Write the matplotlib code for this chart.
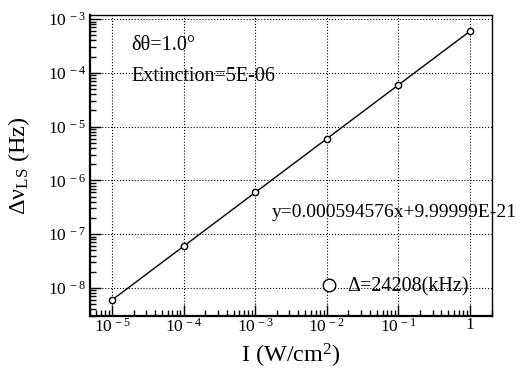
import matplotlib
matplotlib.use('Agg')
import matplotlib.pyplot as plt
from matplotlib.ticker import FixedLocator, LogLocator, NullFormatter

plt.rcParams['font.family'] = ['Liberation Serif', 'DejaVu Serif']
plt.rcParams['mathtext.fontset'] = 'custom'
plt.rcParams['mathtext.rm'] = 'Liberation Serif'
plt.rcParams['mathtext.it'] = 'Liberation Serif:italic'
plt.rcParams['mathtext.bf'] = 'Liberation Serif:bold'

# ── data ──
intensity = [1e-5, 1e-4, 1e-3, 1e-2, 1e-1, 1.0]          # W/cm^2
shift = [5.946e-9, 5.946e-8, 5.946e-7, 5.946e-6, 5.946e-5, 5.946e-4]  # Hz
x_ticks = [1e-5, 1e-4, 1e-3, 1e-2, 1e-1, 1.0]
x_labels = ['10$^{\\,-5}$', '10$^{\\,-4}$', '10$^{\\,-3}$', '10$^{\\,-2}$', '10$^{\\,-1}$', '1']
y_ticks = [1e-8, 1e-7, 1e-6, 1e-5, 1e-4, 1e-3]
y_labels = ['10$^{\\;-8}$', '10$^{\\;-7}$', '10$^{\\;-6}$', '10$^{\\;-5}$', '10$^{\\;-4}$', '10$^{\\;-3}$']

fig = plt.figure(figsize=(5.25, 3.78), dpi=100)
ax = fig.add_axes([90 / 525, 1 - 316 / 378, 402 / 525, 301 / 378])

ax.plot(intensity, shift, '-', color='black', linewidth=1.0)
ax.plot(intensity, shift, 'o', mfc='white', mec='black', mew=1.0, ms=4.5,
        label='\u0394=24208(kHz)')

ax.set_xscale('log')
ax.set_yscale('log')
ax.set_xlim(4.93e-6, 2.03)
ax.set_ylim(3.0e-9, 1.19e-3)

ax.xaxis.set_major_locator(FixedLocator(x_ticks))
ax.set_xticklabels(x_labels)
ax.yaxis.set_major_locator(FixedLocator(y_ticks))
ax.set_yticklabels(y_labels)
ax.xaxis.set_minor_locator(LogLocator(base=10, subs=range(2, 10), numticks=20))
ax.yaxis.set_minor_locator(LogLocator(base=10, subs=range(2, 10), numticks=20))
ax.xaxis.set_minor_formatter(NullFormatter())
ax.yaxis.set_minor_formatter(NullFormatter())

ax.tick_params(which='both', direction='in', top=False, right=False, labelsize=12.5, width=1.0)
ax.tick_params(which='major', length=8)
ax.tick_params(which='minor', length=4)
ax.tick_params(axis='x', pad=1)
ax.tick_params(axis='y', pad=3)

for sp in ax.spines.values():
    sp.set_linewidth(1.0)
ax.spines['left'].set_linewidth(1.6)
ax.spines['bottom'].set_linewidth(1.6)

ax.grid(True, which='major', linestyle=':', color='black', linewidth=0.8)

ax.set_xlabel('I (W/cm$^{2}$)', fontsize=17.5, labelpad=5)
ax.set_ylabel('\u0394\u03bd$_{\\mathregular{LS}}$ (Hz)', fontsize=17.5, labelpad=11)

ax.text(0.102, 0.90, '\u03b4\u03b8=1.0\u00b0', transform=ax.transAxes,
        fontsize=14.5, va='center', ha='left')
ax.text(0.102, 0.797, 'Extinction=5E-06', transform=ax.transAxes,
        fontsize=14.5, va='center', ha='left')
ax.text(0.453, 0.345, 'y=0.000594576x+9.99999E-21', transform=ax.transAxes,
        fontsize=14, va='center', ha='left', clip_on=False)

ax.legend(loc='center left', bbox_to_anchor=(0.575, 0.096), frameon=False,
          handlelength=0.8, handletextpad=0.5, markerscale=2.0, fontsize=14.5,
          borderaxespad=0, borderpad=0)

plt.savefig('out.png', dpi=100, facecolor='white')
